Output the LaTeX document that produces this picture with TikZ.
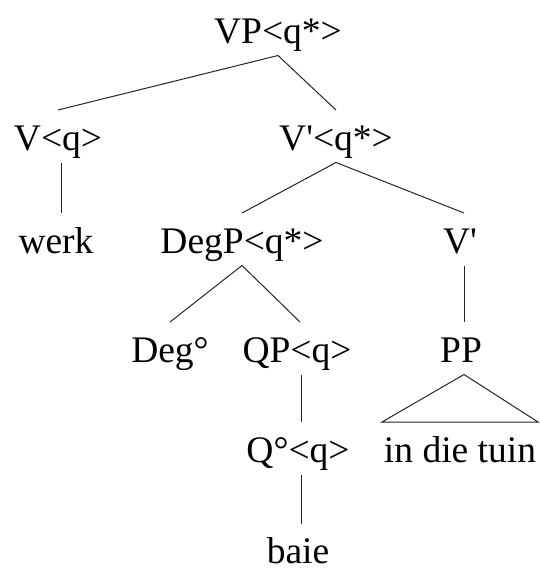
\documentclass[tikz,border=0pt]{standalone}
\usepackage{fontspec}
\setmainfont{Liberation Serif}
\begin{document}
\begin{tikzpicture}[x=1pt,y=-1pt,
  lab/.style={anchor=base,inner xsep=0pt,inner ysep=4pt,outer sep=0pt,
    text height=36pt,text depth=8.5pt,font=\fontsize{37.5}{40}\selectfont},
  edge/.style={line width=1pt,draw=black!85}]
\useasboundingbox (0,0) rectangle (539,570);
% row 1
\node[lab] (vp) at (278,43) {VP<q*>};
% row 2
\node[lab] (v) at (58,150) {V<q>};
\node[lab] (vbar) at (336,150) {V\textquotesingle<q*>};
% row 3
\node[lab] (werk) at (56,253) {werk};
\node[lab] (degp) at (242,253) {DegP<q*>};
\node[lab] (vbarb) at (460,253) {V\textquotesingle};
% row 4
\node[lab] (deg) at (170,362) {Deg°};
\node[lab] (qp) at (297,362) {QP<q>};
\node[lab] (pp) at (461,362) {PP};
% row 5
\node[lab] (q) at (298,462) {Q°<q>};
\node[lab,inner xsep=2pt] (tuin) at (460,462) {in die tuin};
% row 6
\node[lab,text depth=0pt,inner ysep=3pt] (baie) at (298,563) {baie};
% edges
\draw[edge] (vp.south) -- (v.north);
\draw[edge] (vp.south) -- (vbar.north);
\draw[edge] ([xshift=3pt]v.south) -- ([xshift=3pt]v.south |- werk.north);
\draw[edge] (vbar.south) -- (degp.north);
\draw[edge] (vbar.south) -- ([xshift=4pt]vbarb.north);
\draw[edge] (degp.south) -- (deg.north);
\draw[edge] (degp.south) -- ([xshift=3pt]qp.north);
\draw[edge] ([xshift=4pt]vbarb.south) -- ([xshift=4pt]vbarb.south |- pp.north);
\draw[edge] ([xshift=4pt]qp.south) -- ([xshift=4pt]qp.south |- q.north);
\draw[edge] ([xshift=3pt]q.south) -- ([xshift=3pt]q.south |- baie.north);
\draw[edge] ([xshift=3pt]pp.south) -- (tuin.north west) -- (tuin.north east) -- cycle;
\end{tikzpicture}
\end{document}
